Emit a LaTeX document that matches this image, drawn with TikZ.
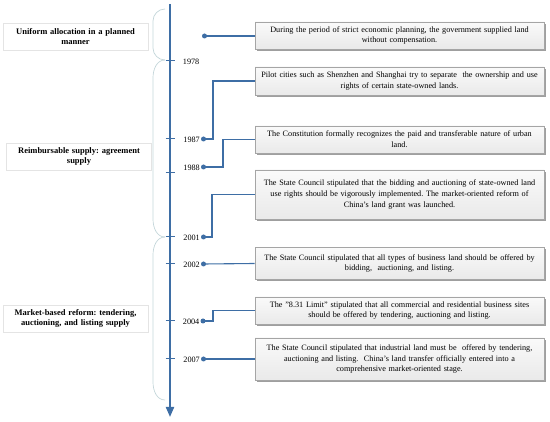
\documentclass[tikz,border=0pt]{standalone}
\usepackage{fontspec}
\setmainfont{Liberation Serif}
\usetikzlibrary{shadows,arrows.meta}
\frenchspacing
\definecolor{axisblue}{RGB}{62,110,165}
\definecolor{bracecol}{RGB}{196,214,218}
\definecolor{boxborder}{RGB}{165,165,165}
\definecolor{labborder}{RGB}{228,228,228}
\tikzset{
  evbox/.style={draw=boxborder, line width=0.6pt, top color=gray!4, bottom color=gray!17,
    drop shadow={shadow xshift=1.6pt, shadow yshift=-1.6pt, fill=gray!75, opacity=1},
    minimum width=289pt, text width=287pt, inner xsep=1pt, inner ysep=0pt, align=center,
    font=\fontsize{8.2}{10.8}\selectfont},
  phasebox/.style={draw=labborder, line width=0.5pt, fill=white, minimum width=145pt, minimum height=27pt,
    text width=143pt, align=center, inner sep=0pt, font=\fontsize{8.5}{10.5}\selectfont\bfseries},
  yearlab/.style={anchor=east, inner sep=0pt, font=\fontsize{8.2}{9}\selectfont},
  dotnode/.style={circle, fill=axisblue, inner sep=0pt, minimum size=5pt},
  conn/.style={draw=axisblue, line width=1.1pt},
  tickline/.style={draw=axisblue, line width=1pt},
  bracestyle/.style={draw=bracecol, line width=0.7pt}
}
\begin{document}
\begin{tikzpicture}[x=1pt,y=-1pt]
\useasboundingbox (0,0) rectangle (550,422);
% braces
\draw[bracestyle] (165,9) to[out=180,in=90] (153,21) -- (153,48) to[out=-90,in=180] (165,60);
\draw[bracestyle] (165,60) to[out=180,in=90] (153,78) -- (153,219) to[out=-90,in=180] (165,237);
\draw[bracestyle] (165,237) to[out=180,in=90] (153,255) -- (153,382) to[out=-90,in=180] (165,400);
% axis
\coordinate (atop) at (170,4);
\coordinate (abot) at (170,417);
\draw[draw=axisblue, line width=2pt, -{Triangle[length=10pt,width=8pt]}] (atop) -- (abot);
% ticks
\foreach \ty in {61,139,173,237,264,321,359}{
  \draw[tickline] (165.5,\ty) -- (174.5,\ty);
}
% phase labels
\node[phasebox] (p1) at (75.5,36.5) {Uniform allocation in a planned\\manner};
\node[phasebox] (p2) at (79,156.5) {Reimbursable supply: agreement\\supply};
\node[phasebox] (p3) at (75.5,318.5) {Market-based reform: tendering,\\auctioning, and listing supply};
% event boxes
\node[evbox, minimum height=27pt] (b1) at (399.5,35.5) {During the period of strict economic planning, the government supplied land\\without compensation.};
\node[evbox, minimum height=28pt] (b2) at (399.5,81) {Pilot cities such as Shenzhen and Shanghai try to separate\ \ the ownership and use\\rights of certain state-owned lands.};
\node[evbox, minimum height=27pt] (b3) at (399.5,139.5) {The Constitution formally recognizes the paid and transferable nature of urban\\land.};
\node[evbox, minimum height=49pt] (b4) at (399.5,194.5) {The State Council stipulated that the bidding and auctioning of state-owned land\\use rights should be vigorously implemented. The market-oriented reform of\\China's land grant was launched.};
\node[evbox, minimum height=32pt] (b5) at (399.5,263.5) {The State Council stipulated that all types of business land should be offered by\\bidding,\ \ auctioning, and listing.};
\node[evbox, minimum height=27pt] (b6) at (399.5,310.5) {The "8.31 Limit" stipulated that all commercial and residential business sites\\should be offered by tendering, auctioning and listing.};
\node[evbox, minimum height=42pt] (b7) at (399.5,359) {The State Council stipulated that industrial land must be\ \ offered by tendering,\\auctioning and listing.\ \ China's land transfer officially entered into a\\comprehensive market-oriented stage.};
% dots
\node[dotnode] (d0) at (204.5,36) {};
\node[dotnode] (d1987) at (203.5,139) {};
\node[dotnode] (d1988) at (203.5,167) {};
\node[dotnode] (d2001) at (203.5,237) {};
\node[dotnode] (d2002) at (203.5,264) {};
\node[dotnode] (d2004) at (203,321) {};
\node[dotnode] (d2007) at (203.5,359) {};
% year labels
\node[yearlab] (y1978) at (199.5,62) {1978};
\node[yearlab] (y1987) at (200,139.5) {1987};
\node[yearlab] (y1988) at (200,167.5) {1988};
\node[yearlab] (y2001) at (200,237.5) {2001};
\node[yearlab] (y2002) at (200,264.5) {2002};
\node[yearlab] (y2004) at (199.5,321.5) {2004};
\node[yearlab] (y2007) at (200,359.5) {2007};
% elbow coordinates
\coordinate (e1987) at (213,139);
\coordinate (e1988) at (223,167);
\coordinate (e2001) at (212,237);
\coordinate (e2004) at (213,321);
% connectors
\draw[conn] (d0.center) -- (d0.center -| b1.west);
\draw[conn] (d1987.center) -- (e1987) |- (b2.west);
\draw[conn] (d1988.center) -- (e1988) |- (b3.west);
\draw[conn] (d2001.center) -- (e2001) |- (b4.west);
\draw[conn] (d2002.center) -- (b5.west);
\draw[conn] (d2004.center) -- (e2004) |- (b6.west);
\draw[conn] (d2007.center) -- (b7.west);
\end{tikzpicture}
\end{document}
